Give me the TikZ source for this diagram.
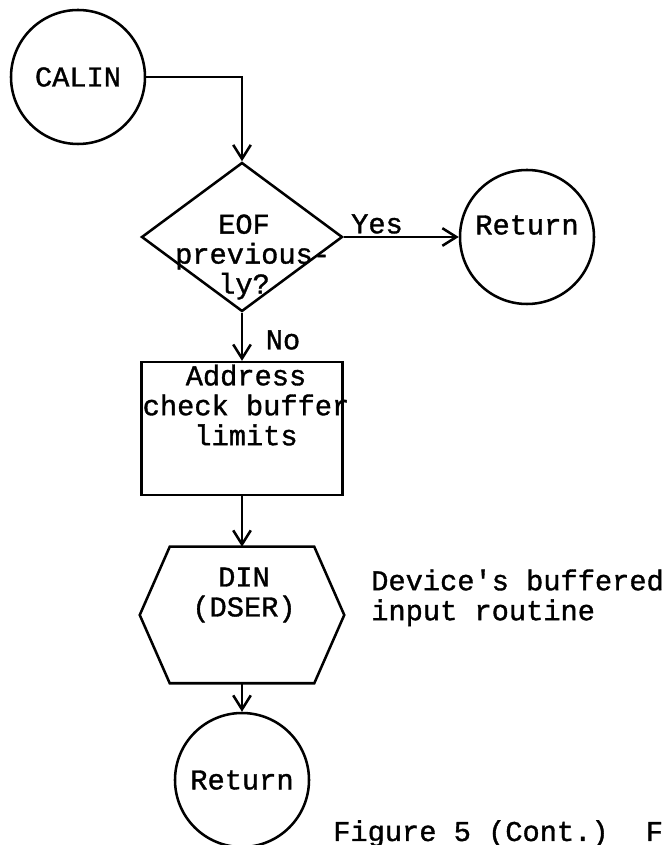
\documentclass[tikz,border=0pt]{standalone}
\usepackage{fontspec}
\setmainfont{Liberation Mono}[FakeBold=1.2]
\usetikzlibrary{positioning}
\usetikzlibrary{shapes.geometric,arrows.meta}

\begin{document}
\begin{tikzpicture}[
    line width=1.8pt,
    font=\fontsize{20.4}{21.3}\selectfont,
    term/.style={circle, draw, minimum size=3.35cm, inner sep=0pt},
    decision/.style={diamond, draw, minimum width=5.025cm, minimum height=3.725cm, inner sep=0pt},
    procbox/.style={rectangle, draw, minimum width=5.025cm, minimum height=3.325cm, inner sep=0pt},
    hexbox/.style={rectangle, minimum width=5.05cm, minimum height=3.35cm, inner sep=0pt},
    flow/.style={-{Straight Barb[length=3.5mm,width=4.4mm]}}
  ]
    \useasboundingbox (0,0) rectangle (16.65,21.125);

    \node[term] (calin) at (1.95,19.2) {CALIN};
    \node[decision] (eof) at (6.05,15.2) {};
    \node[term] (yesret) at (13.175,15.2) {};
    \node[procbox] (chk) at (6.05,10.41) {};
    \node[hexbox] (din) at (6.05,5.75) {};
    \node[term] (ret) at (6.05,1.625) {Return};

    % hexagon round the DIN box
    \draw (din.west) -- ([xshift=7.5mm]din.north west) -- ([xshift=-7.5mm]din.north east)
      -- (din.east) -- ([xshift=-7.5mm]din.south east) -- ([xshift=7.5mm]din.south west) -- cycle;

    \draw[flow] (calin.east) -| (eof.north);
    \draw[flow] (eof.east) -- (yesret.west);
    \draw[flow] (eof.south) -- (chk.north);
    \draw[flow] (chk.south) -- (din.north);
    \draw[flow] (din.south) -- (ret.north);

    \node[align=center] (eoftxt) at (6.1,14.7) {EOF\\previous\rlap{-}\\ly?};
    \node (yeslbl) at (9.425,15.525) {Yes};
    \node (yesrettxt) at (13.175,15.5) {Return};
    \node (nolbl) at (7.075,12.625) {No};
    \node[align=center] (chktxt) at (6.15,11.0) {Address\\check buffer\\limits};
    \node[align=center] (dintxt) at (6.1,6.25) {DIN\\(DSER)};
    \node[align=left, anchor=west, inner sep=0pt] (dinnote) at (9.25,6.18) {Device\textquotesingle s buffered\\input routine};
    \node[anchor=base west, inner sep=0pt] (figcap) at (8.3,0.1) {Figure 5 (Cont.)\hspace{1.3em}F};
\end{tikzpicture}
\end{document}
